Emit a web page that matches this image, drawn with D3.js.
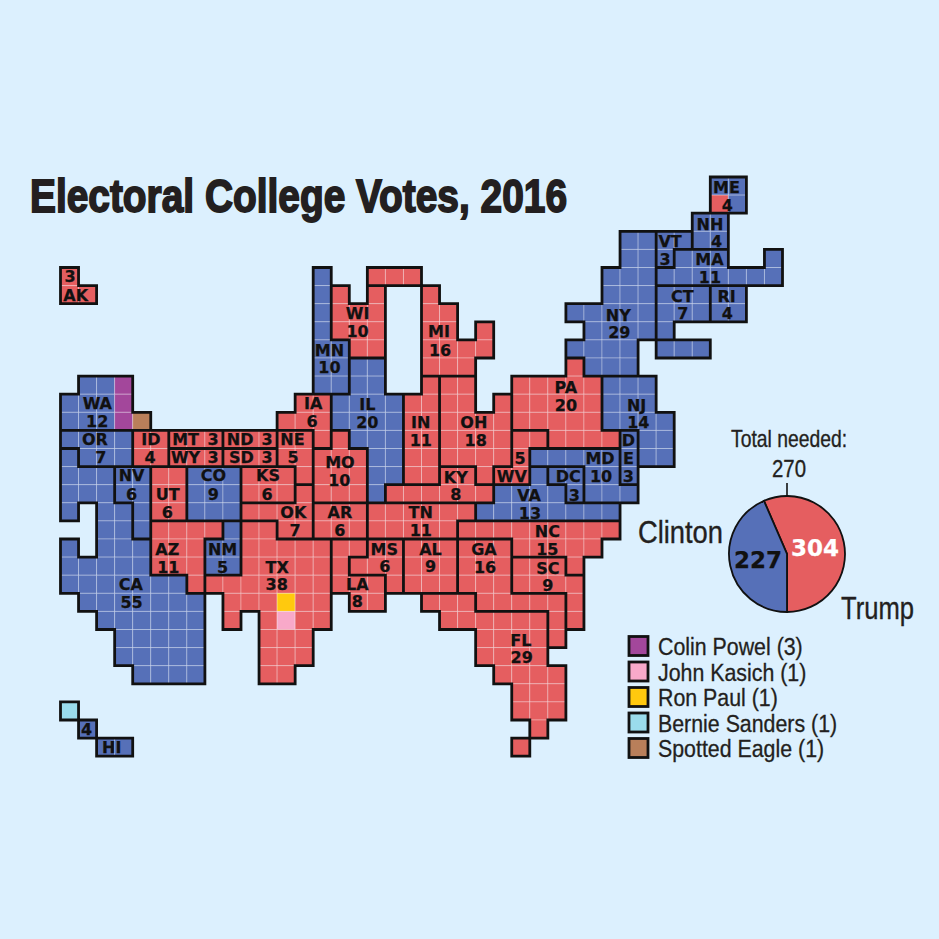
<!DOCTYPE html>
<html lang="en">
<head>
  <meta charset="UTF-8">
  <title>Electoral College Votes, 2016</title>
  <script src="https://cdnjs.cloudflare.com/ajax/libs/d3/7.8.5/d3.min.js"></script>
  <style>
    html, body { margin: 0; padding: 0; background: #dcf0fe; }
    svg { display: block; }
    .cell-label { font-family: "DejaVu Sans", Verdana, sans-serif; font-weight: bold; font-size: 16px; fill: #111; stroke: #111; stroke-width: .25px; text-anchor: middle; }
    .narrow { font-family: "Liberation Sans", sans-serif; fill: #231f20; stroke: #231f20; }
  </style>
</head>
<body>
  <script type="text/javascript">

  // Width and height
  var w = 939;
  var h = 939;

  // State order, winner and tile runs: [row, first column, last column]
  var stateCodes = ["AK","WA","OR","CA","NV","ID","MT","WY","ND","SD","NE","UT","CO","KS","OK","AZ","NM","TX","HI",
    "MN","WI","IA","IL","MO","AR","LA","MS","TN","KY","IN","MI","OH","AL","GA","FL","SC","NC","VA","WV","PA",
    "MD","DC","DE","NJ","NY","CT","RI","MA","VT","NH","ME"];

  var clintonStates = ["WA","OR","CA","NV","CO","NM","HI","MN","IL","VA","MD","DC","DE","NJ","NY","CT","RI","MA","VT","NH","ME"];

  var stateRuns = [
    [[0,0,0],[1,0,1]],                                            // AK
    [[6,1,3],[7,0,3],[8,0,4]],                                    // WA
    [[9,0,3],[10,1,3]],                                           // OR
    [[10,0,0],[11,0,2],[12,0,2],[13,0,0],[13,2,3],[14,2,3],[15,0,0],[15,2,4],[16,0,4],[17,0,6],[18,1,7],[19,2,7],[20,3,7],[21,3,7],[22,4,7]], // CA
    [[11,3,4],[12,3,4],[13,4,4],[14,4,4]],                        // NV
    [[9,4,5],[10,4,5]],                                           // ID
    [[9,6,8]],                                                    // MT
    [[10,6,8]],                                                   // WY
    [[9,9,11]],                                                   // ND
    [[10,9,11]],                                                  // SD
    [[9,12,13],[10,12,13],[11,13,13]],                            // NE
    [[11,5,6],[12,5,6],[13,5,6]],                                 // UT
    [[11,7,9],[12,7,9],[13,7,9]],                                 // CO
    [[11,10,12],[12,10,12]],                                      // KS
    [[12,13,13],[13,10,13],[14,12,13]],                           // OK
    [[14,5,8],[15,5,7],[16,5,7],[17,7,7]],                        // AZ
    [[14,9,9],[15,8,9],[16,8,9]],                                 // NM
    [[14,10,11],[15,10,14],[16,10,14],[17,8,14],[18,9,14],[19,9,9],[19,11,14],[20,11,13],[21,11,13],[22,11,12]], // TX
    [[24,0,0],[25,1,1],[26,2,3]],                                 // HI
    [[0,14,14],[1,14,14],[2,14,14],[3,14,14],[4,14,15],[5,14,15],[6,14,15]], // MN
    [[1,15,15],[1,17,17],[2,15,17],[3,15,17],[4,16,17]],          // WI
    [[7,13,14],[8,12,14],[9,14,14]],                              // IA
    [[5,16,17],[6,16,17],[7,15,18],[8,15,18],[9,16,18],[10,17,18],[11,17,18],[12,17,17]], // IL
    [[9,15,15],[10,14,16],[11,14,16],[12,14,16]],                 // MO
    [[13,14,16],[14,14,16]],                                      // AR
    [[15,15,16],[16,15,15],[17,15,17],[18,16,17]],                // LA
    [[15,17,18],[16,16,18],[17,18,18]],                           // MS
    [[13,17,22],[14,17,21]],                                      // TN
    [[11,21,22],[12,18,23]],                                      // KY
    [[6,20,20],[7,19,20],[8,19,20],[9,19,20],[10,19,20],[11,19,20]], // IN
    [[0,17,19],[1,20,20],[2,20,21],[3,20,21],[3,23,23],[4,20,23],[5,20,22]], // MI
    [[6,21,22],[7,21,22],[7,24,24],[8,21,24],[9,21,24],[10,21,24],[11,23,23]], // OH
    [[15,19,21],[16,19,21],[17,19,21]],                           // AL
    [[15,22,24],[16,22,24],[17,22,24],[18,23,27],[19,27,27],[20,27,27]], // GA
    [[18,20,22],[19,21,26],[20,23,26],[21,23,26],[22,24,27],[23,25,27],[24,25,27],[25,26,26],[26,25,25]], // FL
    [[16,25,27],[17,25,28],[18,28,28],[19,28,28]],                // SC
    [[14,22,30],[15,25,29],[16,28,28]],                           // NC
    [[11,26,26],[12,24,27],[13,23,30]],                           // VA
    [[9,25,26],[10,25,25],[11,24,25]],                            // WV
    [[5,28,28],[6,25,29],[7,25,29],[8,25,29],[9,27,30]],          // PA
    [[10,26,30],[11,29,30],[12,29,31]],                           // MD
    [[11,27,28],[12,28,28]],                                      // DC
    [[9,31,31],[10,31,31],[11,31,31]],                            // DE
    [[6,30,32],[7,30,32],[8,30,33],[9,32,33],[10,32,33]],         // NJ
    [[-2,31,32],[-1,31,32],[0,30,32],[1,30,32],[2,28,32],[3,29,32],[4,28,31],[4,33,35],[5,29,31]], // NY
    [[1,33,35],[2,33,35],[3,33,33]],                              // CT
    [[1,36,37],[2,36,37]],                                        // RI
    [[-1,34,36],[-1,39,39],[0,33,39]],                            // MA
    [[-2,33,34],[-1,33,33]],                                      // VT
    [[-3,35,36],[-2,35,36]],                                      // NH
    [[-5,36,37],[-4,36,37]]                                       // ME
  ];

  // Tiles that did not go with the state: [who, column, row]
  var specialTiles = [
    ["Colin Powel",3,6],["Colin Powel",3,7],["Colin Powel",3,8],
    ["Spotted Eagle",4,8],
    ["John Kasich",12,19],
    ["Ron Paul",12,18],
    ["Bernie Sanders",0,24],
    ["Trump",36,-4]
  ];

  // State labels: [text, column, row]
  var tileLabels = [
    ["3",.53,.5],["AK",.84,1.55],["WA",2.04,7.5],["12",2.03,8.5],["OR",1.91,9.5],["7",2.24,10.5],
    ["ID",5.01,9.5],["4",4.96,10.5],["MT",6.93,9.5],["3",8.45,9.5],["WY",6.93,10.5],["3",8.45,10.5],
    ["ND",9.95,9.5],["3",11.44,9.5],["SD",10.02,10.5],["3",11.44,10.5],["NE",12.85,9.5],["5",12.88,10.5],
    ["IA",14,7.5],["6",13.94,8.5],["MN",14.9,4.55],["10",14.9,5.5],["NV",3.94,11.5],["6",3.94,12.5],
    ["UT",5.94,12.5],["6",5.92,13.5],["CO",8.47,11.5],["9",8.47,12.5],["KS",11.5,11.5],["6",11.44,12.5],
    ["OK",12.9,13.5],["7",13,14.5],["AR",15.48,13.5],["6",15.48,14.5],["AZ",5.92,15.55],["11",5.97,16.55],
    ["NM",8.98,15.55],["5",8.98,16.55],["TX",12,16.55],["38",11.98,17.5],["CA",3.89,17.5],["55",3.94,18.5],
    ["4",1.45,25.5],["HI",2.84,26.5],["WI",16.46,2.5],["10",16.46,3.5],["MI",20.97,3.5],["16",21.03,4.55],
    ["IL",17,7.55],["20",17,8.55],["IN",19.96,8.55],["11",19.96,9.55],["OH",22.9,8.55],["18",23,9.55],
    ["MO",15.48,10.75],["10",15.45,11.74],["KY",21.9,11.6],["8",21.9,12.55],["WV",25,11.53],["5",25.46,10.53],
    ["PA",28,6.59],["20",28,7.6],["NJ",31.92,7.6],["14",32.01,8.57],["MD",29.89,10.55],["10",29.95,11.55],
    ["DC",28.13,11.55],["3",28.47,12.57],["D",31.46,9.57],["E",31.46,10.55],["3",31.46,11.55],
    ["VA",25.96,12.57],["13",26.01,13.55],["NC",26.97,14.56],["15",26.97,15.55],["SC",27,16.6],["9",27,17.55],
    ["GA",23.46,15.55],["16",23.52,16.55],["AL",20.5,15.55],["9",20.5,16.5],["MS",17.94,15.55],["6",17.97,16.5],
    ["LA",16.44,17.5],["8",16.45,18.45],["TN",19.96,13.5],["11",19.96,14.5],["FL",25.5,20.58],["29",25.55,21.55],
    ["ME",36.9,-4.41],["4",36.94,-3.45],["NH",35.98,-2.4],["4",36.35,-1.43],["VT",33.77,-1.43],["3",33.49,-.45],
    ["MA",35.95,-.45],["11",35.98,.54],["CT",34.45,1.57],["7",34.48,2.53],["RI",36.9,1.57],["4",36.94,2.53],
    ["NY",30.9,2.62],["29",30.96,3.58]
  ];

  // Pie
  var pieNames = ["Trump","Clinton"];
  var pieValues = [304,234];
  var pieLabels = ["304","227"];
  var pieNeeded = 270;

  // Legend
  var legendNames = ["Colin Powel","John Kasich","Ron Paul","Bernie Sanders","Spotted Eagle"];
  var legendCounts = [3,1,1,1,1];

  var colors = d3.scaleOrdinal()
    .domain(["Trump","Clinton"].concat(legendNames))
    .range(["#e55e60","#5670b8","#a3479b","#f8a9c9","#ffc90e","#9adcec","#b97f5a"]);

  var xScale = d3.scaleLinear().domain([0,40]).range([60.5,60.5 + 40*18.05]);
  var yScale = d3.scaleLinear().domain([0,27]).range([267.5,267.5 + 27*18.1]);

  var svg = d3.select("body").append("svg")
    .attr("width", w)
    .attr("height", h);

  svg.append("rect").attr("width", w).attr("height", h).attr("fill", "#dcf0fe");

  // Expand the runs into one record per tile
  var tiles = [];
  var stateKeys = {};
  stateCodes.forEach(function(code, i) {
    stateKeys[code] = {};
    stateRuns[i].forEach(function(run) {
      d3.range(run[1], run[2] + 1).forEach(function(col) {
        stateKeys[code][col + "," + run[0]] = true;
        tiles.push({state: code, col: col, row: run[0],
          who: clintonStates.indexOf(code) >= 0 ? "Clinton" : "Trump"});
      });
    });
  });
  tiles.forEach(function(t) {
    specialTiles.forEach(function(s) {
      if (s[1] == t.col && s[2] == t.row) t.who = s[0];
    });
  });

  svg.append("g").selectAll("rect")
    .data(tiles)
    .enter()
    .append("rect")
    .attr("x", function(d) { return xScale(d.col); })
    .attr("y", function(d) { return yScale(d.row); })
    .attr("width", xScale(1) - xScale(0))
    .attr("height", yScale(1) - yScale(0))
    .attr("fill", function(d) { return colors(d.who); })
    .attr("stroke", "#ffffff")
    .attr("stroke-opacity", 0.3)
    .attr("stroke-width", 1);

  // Black outline wherever a tile side does not touch its own state
  var outline = "";
  tiles.forEach(function(t) {
    var keys = stateKeys[t.state];
    var x0 = xScale(t.col), x1 = xScale(t.col + 1), y0 = yScale(t.row), y1 = yScale(t.row + 1);
    if (!keys[t.col + "," + (t.row - 1)]) outline += "M" + x0 + "," + y0 + "L" + x1 + "," + y0;
    if (!keys[t.col + "," + (t.row + 1)]) outline += "M" + x0 + "," + y1 + "L" + x1 + "," + y1;
    if (!keys[(t.col - 1) + "," + t.row]) outline += "M" + x0 + "," + y0 + "L" + x0 + "," + y1;
    if (!keys[(t.col + 1) + "," + t.row]) outline += "M" + x1 + "," + y0 + "L" + x1 + "," + y1;
  });
  svg.append("path")
    .attr("d", outline)
    .attr("fill", "none")
    .attr("stroke", "#111")
    .attr("stroke-width", 2.8)
    .attr("stroke-linecap", "square");

  svg.append("g").selectAll("text")
    .data(tileLabels)
    .enter()
    .append("text")
    .attr("class", "cell-label")
    .attr("x", function(d) { return xScale(d[1]); })
    .attr("y", function(d) { return yScale(d[2]); })
    .attr("dy", ".36em")
    .text(function(d) { return d[0]; });

  // Squeezed sans text, standing in for the condensed face of the original
  function narrowText(x, y, size, width, weight, text) {
    return svg.append("text")
      .attr("class", "narrow")
      .attr("x", x)
      .attr("y", y)
      .attr("font-size", size)
      .attr("font-weight", weight)
      .attr("stroke-width", weight == "bold" ? 1.8 : .35)
      .attr("textLength", width)
      .attr("lengthAdjust", "spacingAndGlyphs")
      .text(text);
  }

  narrowText(30, 212, 47, 537, "bold", "Electoral College Votes, 2016");

  // Pie
  var pieX = 787, pieY = 554, pieR = 58;
  var pieStart = Math.PI - 2*Math.PI*pieValues[0]/d3.sum(pieValues);
  var pie = d3.pie().sort(null).startAngle(pieStart).endAngle(pieStart + 2*Math.PI);
  var arc = d3.arc().innerRadius(0).outerRadius(pieR);
  var pieG = svg.append("g").attr("transform", "translate(" + pieX + "," + pieY + ")");

  pieG.selectAll("path")
    .data(pie(pieValues))
    .enter()
    .append("path")
    .attr("d", arc)
    .attr("fill", function(d, i) { return colors(pieNames[i]); })
    .attr("stroke", "#111")
    .attr("stroke-width", 1.8);

  pieG.append("line")
    .attr("y1", -pieR)
    .attr("y2", -pieR - 13)
    .attr("stroke", "#111")
    .attr("stroke-width", 1.6);

  svg.append("text").attr("class", "cell-label").attr("x", 815).attr("y", 556)
    .style("font-size", "23px").style("fill", "#fff").style("stroke", "#fff").text(pieLabels[0]);
  svg.append("text").attr("class", "cell-label").attr("x", 758).attr("y", 568)
    .style("font-size", "23px").text(pieLabels[1]);

  narrowText(638, 543, 31, 85, "normal", pieNames[1]);
  narrowText(841, 619, 31, 73, "normal", pieNames[0]);
  narrowText(731, 447, 24, 116, "normal", "Total needed:");
  narrowText(772, 477, 24, 34, "normal", pieNeeded);

  // Legend
  var legendY = d3.scaleLinear().domain([0,4]).range([636.5,738.5]);
  var legend = svg.append("g").selectAll("g")
    .data(legendNames)
    .enter()
    .append("g")
    .attr("transform", function(d, i) { return "translate(629," + legendY(i) + ")"; });

  legend.append("rect")
    .attr("width", 19)
    .attr("height", 19)
    .attr("fill", function(d) { return colors(d); })
    .attr("stroke", "#111")
    .attr("stroke-width", 2.8);

  legend.append("text")
    .attr("class", "narrow")
    .attr("stroke-width", .3)
    .attr("transform", "translate(29,18.5) scale(.89,1)")
    .attr("font-size", 24)
    .text(function(d, i) { return d + " (" + legendCounts[i] + ")"; });

  </script>
</body>
</html>
